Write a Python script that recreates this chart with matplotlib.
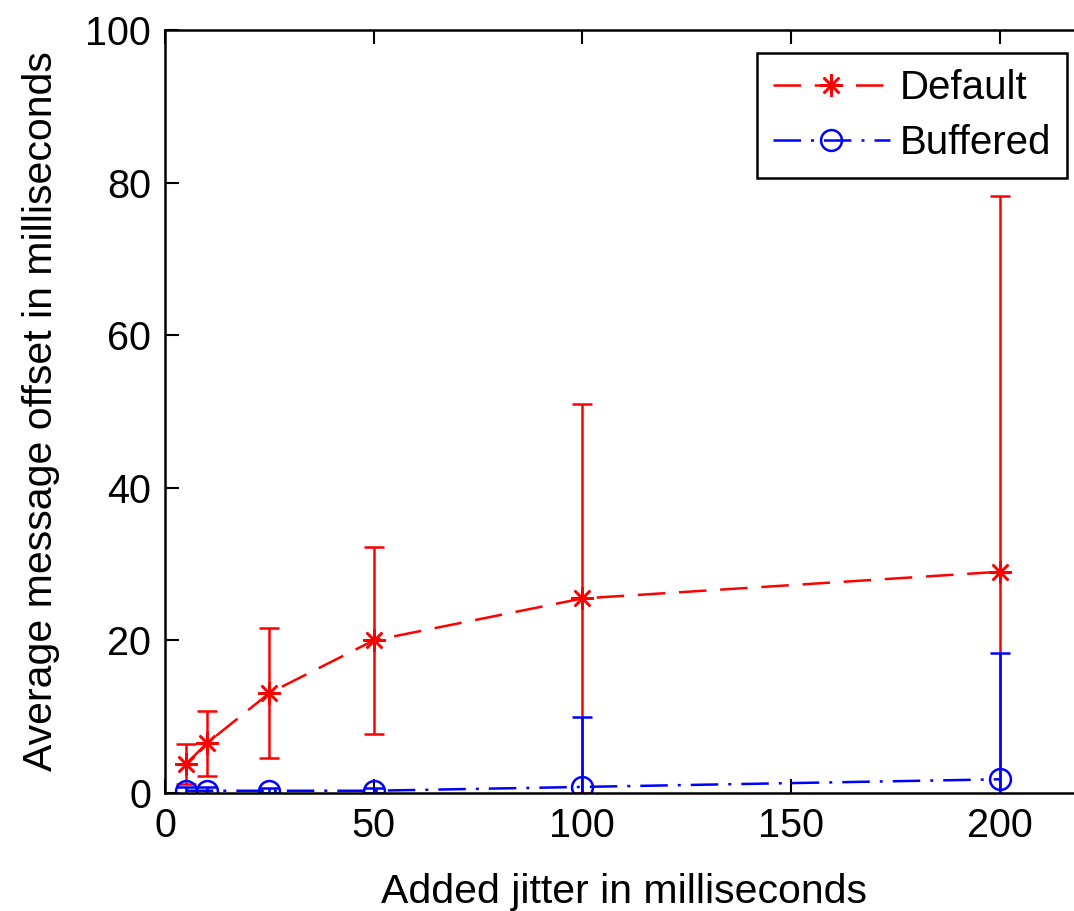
import numpy as np
import matplotlib.pyplot as plt

plt.rcParams['font.family'] = ['Liberation Sans', 'DejaVu Sans']

jitter = [5, 10, 25, 50, 100, 200]
default_mean = [3.8, 6.5, 13.1, 20.0, 25.5, 29.0]
default_err = [2.6, 4.3, 8.5, 12.2, 25.5, 49.3]
buffered_mean = [0.3, 0.3, 0.3, 0.3, 0.8, 1.8]
buffered_err = [0.5, 0.5, 0.3, 0.3, 9.2, 16.5]

fig = plt.figure(figsize=(10.74, 9.11), dpi=100)
ax = fig.add_axes([0.1536, 0.1295, 0.855, 0.8375])

asterisk = (8, 2, 0)
eb1 = ax.errorbar(jitter, default_mean, yerr=default_err, color='red', ls=(0, (11, 5.5)),
                  marker=asterisk, ms=16, mew=1.8, lw=1.8, elinewidth=1.8,
                  capsize=7.5, capthick=1.8)
eb2 = ax.errorbar(jitter, buffered_mean, yerr=buffered_err, color='blue',
                  ls=(0, (11, 4, 1.2, 4)), marker='o', mfc='none', ms=15, mew=1.8,
                  lw=1.8, elinewidth=1.8, capsize=7.5, capthick=1.8)

ax.set_xlim(0, 220)
ax.set_ylim(0, 100)
ax.set_xticks([0, 50, 100, 150, 200])
ax.set_yticks([0, 20, 40, 60, 80, 100])
ax.tick_params(direction='in', length=10, width=1.5, labelsize=28.5,
               top=True, right=False, pad=10)
for s in ax.spines.values():
    s.set_linewidth(1.8)

ax.set_xlabel('Added jitter in milliseconds', fontsize=29.5, labelpad=20)
ax.set_ylabel('Average message offset in milliseconds', fontsize=29.5, labelpad=18)

leg = ax.legend([eb1.lines[0], eb2.lines[0]], ['Default', 'Buffered'],
                loc='upper right', bbox_to_anchor=(0.9826, 0.970), borderaxespad=0,
                fontsize=29, fancybox=False, framealpha=1, edgecolor='black',
                handlelength=2.9, handletextpad=0.25, borderpad=0.4, labelspacing=0.42,
                numpoints=1)
leg.get_frame().set_linewidth(1.8)

fig.savefig('out.png', dpi=100)
